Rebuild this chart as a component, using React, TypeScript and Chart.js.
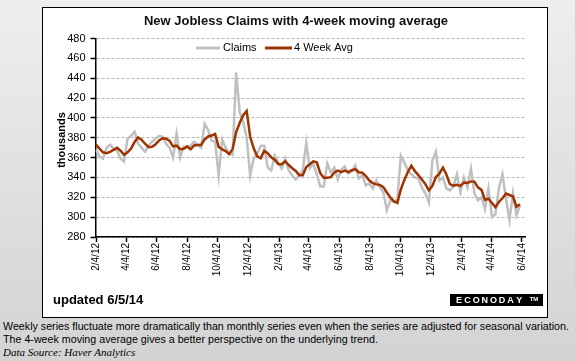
import React, { useEffect, useRef } from "react";
import { Chart, registerables } from "chart.js";

Chart.register(...registerables);

const titleText = "New Jobless Claims with 4-week moving average";
const yAxisTitle = "thousands";
const seriesNames = ["Claims", "4 Week Avg"];
const firstWeekEnding = "2/4/12";

// weekly initial claims, thousands (week ending 2/4/12 onward)
const claims = [
  368, 361, 359, 370, 373, 369, 367, 359, 356, 379,
  382, 386, 374, 370, 366, 372, 376, 379, 382, 381,
  374, 370, 360, 384, 360, 371, 370, 372, 376, 373,
  370, 394, 388, 377, 376, 342, 378, 370, 364, 363,
  446, 406, 396, 380, 342, 359, 364, 372, 372, 350,
  347, 362, 355, 349, 359, 347, 342, 338, 342, 347,
  375, 349, 354, 343, 331, 331, 354, 345, 350, 338,
  348, 351, 344, 346, 352, 339, 342, 332, 334, 329,
  337, 330, 325, 307, 317, 315, 318, 362, 355, 347,
  343, 340, 339, 330, 324, 315, 357, 366, 337, 340,
  329, 327, 331, 343, 325, 340, 330, 349, 324, 317,
  320, 308, 329, 300, 303, 330, 343, 319, 297, 324,
  302, 312,
];

// 4-week moving average, thousands
const avg4wk = [
  373.0, 369.0, 365.3, 364.5, 365.8, 367.8, 369.8, 367.0, 362.8, 365.3,
  369.0, 375.8, 380.3, 378.0, 374.0, 370.5, 371.0, 373.3, 377.3, 379.5,
  379.0, 376.8, 371.3, 372.0, 368.5, 368.8, 371.3, 368.3, 372.3, 372.8,
  372.8, 378.3, 381.3, 382.3, 383.8, 370.8, 368.3, 366.5, 363.5, 368.8,
  385.8, 394.8, 402.8, 407.0, 381.0, 369.3, 361.3, 359.3, 366.8, 364.5,
  360.3, 357.8, 353.5, 353.3, 356.3, 352.5, 349.3, 346.5, 342.3, 342.3,
  350.5, 353.3, 356.3, 355.3, 344.3, 339.8, 339.8, 340.3, 345.0, 346.8,
  345.3, 346.8, 345.3, 347.3, 348.3, 345.3, 344.8, 341.3, 336.8, 334.3,
  333.0, 332.5, 330.3, 324.8, 319.8, 316.0, 314.3, 328.0, 337.5, 345.5,
  351.8, 346.3, 342.3, 338.0, 333.3, 327.0, 331.5, 340.5, 343.8, 350.0,
  343.0, 333.3, 331.8, 332.5, 331.5, 334.8, 334.5, 336.0, 335.8, 330.0,
  327.5, 317.3, 318.5, 314.3, 310.0, 315.5, 319.0, 323.8, 322.3, 320.8,
  310.5, 313.0,
];

const xTickLabels = [
  "2/4/12", "4/4/12", "6/4/12", "8/4/12", "10/4/12", "12/4/12", "2/4/13",
  "4/4/13", "6/4/13", "8/4/13", "10/4/13", "12/4/13", "2/4/14", "4/4/14", "6/4/14",
];
const yMin = 280;
const yMax = 480;
const yStep = 20;

const updatedText = "updated 6/5/14";
const logoText = "ECONODAY";
const captionLines = [
  "Weekly series fluctuate more dramatically than monthly series even when the series are adjusted for seasonal variation.",
  "The 4-week moving average gives a better perspective on the underlying trend.",
];
const sourceText = "Data Source: Haver Analytics";

const FONT = '"Liberation Sans", Arial, Helvetica, sans-serif';
const DAY_MS = 86400000;

function parseUS(s: string): number {
  const [m, d, y] = s.split("/").map(Number);
  return Date.UTC(2000 + y, m - 1, d);
}
const t0 = parseUS(firstWeekEnding);
const dayOf = (s: string) => Math.round((parseUS(s) - t0) / DAY_MS);
const tickDays = xTickLabels.map(dayOf);
const labelByDay: Record<number, string> = {};
xTickLabels.forEach((l, i) => (labelByDay[tickDays[i]] = l));

const claimsPts = claims.map((v, i) => ({ x: i * 7, y: v }));
const avgPts = avg4wk.map((v, i) => ({ x: i * 7, y: v }));

const CLAIMS_COLOR = "#c0c0c0";
const AVG_COLOR = "#9e3300";

const decorPlugin = {
  id: "decor",
  afterDraw(chart: any) {
    const ctx = chart.ctx as CanvasRenderingContext2D;
    ctx.save();
    // title
    ctx.fillStyle = "#111";
    ctx.textAlign = "center";
    ctx.textBaseline = "middle";
    ctx.font = `bold 13px ${FONT}`;
    ctx.fillText(titleText, 253, 13);

    // y axis title
    ctx.save();
    ctx.translate(19, 132);
    ctx.rotate(-Math.PI / 2);
    ctx.font = `bold 11px ${FONT}`;
    ctx.fillStyle = "#000";
    ctx.fillText(yAxisTitle, 0, 0);
    ctx.restore();

    // legend
    const ly = 40;
    ctx.lineWidth = 3;
    ctx.strokeStyle = CLAIMS_COLOR;
    ctx.beginPath();
    ctx.moveTo(153, ly);
    ctx.lineTo(177, ly);
    ctx.stroke();
    ctx.strokeStyle = AVG_COLOR;
    ctx.beginPath();
    ctx.moveTo(222, ly);
    ctx.lineTo(249, ly);
    ctx.stroke();
    ctx.font = `11px ${FONT}`;
    ctx.fillStyle = "#000";
    ctx.textAlign = "left";
    ctx.fillText(seriesNames[0], 180, ly);
    ctx.fillText(seriesNames[1], 251, ly);

    // updated
    ctx.font = `bold 13px ${FONT}`;
    ctx.fillText(updatedText, 10, 292);

    // logo
    ctx.fillStyle = "#000";
    ctx.fillRect(407, 286, 93, 12);
    ctx.fillStyle = "#fff";
    ctx.font = `bold 9px ${FONT}`;
    ctx.textAlign = "center";
    for (let i = 0; i < logoText.length; i++) {
      ctx.fillText(logoText[i], 416 + i * 8.6, 292.5);
    }
    ctx.font = `bold 6px ${FONT}`;
    ctx.fillText("TM", 491, 291);
    ctx.restore();
  },
};

export default function App() {
  const canvasRef = useRef<HTMLCanvasElement | null>(null);

  useEffect(() => {
    if (!canvasRef.current) return;
    const chart = new Chart(canvasRef.current, {
      type: "line",
      data: {
        datasets: [
          {
            label: seriesNames[0],
            data: claimsPts,
            borderColor: CLAIMS_COLOR,
            backgroundColor: CLAIMS_COLOR,
            borderWidth: 2.5,
            pointRadius: 0,
            tension: 0,
            order: 2,
          },
          {
            label: seriesNames[1],
            data: avgPts,
            borderColor: AVG_COLOR,
            backgroundColor: AVG_COLOR,
            borderWidth: 2.5,
            pointRadius: 0,
            tension: 0,
            order: 1,
          },
        ],
      },
      options: {
        animation: false,
        responsive: false,
        maintainAspectRatio: false,
        devicePixelRatio: 1,
        layout: { padding: { top: 30.5, right: 22, left: 0, bottom: 0 } },
        plugins: {
          legend: { display: false },
          tooltip: { enabled: false },
          title: { display: false },
        },
        scales: {
          x: {
            type: "linear",
            min: -1,
            max: 857,
            afterBuildTicks: (s: any) => {
              s.ticks = tickDays.map((v) => ({ value: v }));
            },
            afterFit: (s: any) => {
              s.height = 80;
            },
            ticks: {
              autoSkip: false,
              minRotation: 90,
              maxRotation: 90,
              color: "#000",
              padding: 1,
              font: { size: 10, family: FONT },
              callback: (v: any) => labelByDay[v as number] ?? "",
            },
            grid: {
              drawOnChartArea: false,
              drawTicks: true,
              tickLength: 5,
              tickColor: "#000",
              tickWidth: 1.5,
            },
            border: { display: true, color: "#000", width: 1.5 },
          },
          y: {
            min: yMin,
            max: yMax,
            afterFit: (s: any) => {
              s.width = 52.5;
            },
            ticks: {
              stepSize: yStep,
              color: "#000",
              padding: 5,
              font: { size: 11, family: FONT },
            },
            grid: {
              color: "#b4b4b4",
              lineWidth: 1,
              tickColor: "#000",
              tickLength: 5,
              tickWidth: 1.5,
            },
            border: { display: true, color: "#000", width: 1.5, dash: [3, 2] },
          },
        },
      },
      plugins: [decorPlugin],
    } as any);
    return () => chart.destroy();
  }, []);

  return (
    <div
      style={{
        position: "absolute",
        left: 0,
        top: 0,
        width: 575,
        height: 361,
        background: "linear-gradient(#eeeeee, #d3d3d3)",
        fontFamily: FONT,
        overflow: "hidden",
      }}
    >
      <div
        style={{
          position: "absolute",
          left: 42,
          top: 7,
          width: 504,
          height: 309,
          border: "1px solid #000",
          background: "#fff",
        }}
      >
        <canvas ref={canvasRef} width={504} height={309} style={{ display: "block", width: 504, height: 309 }} />
      </div>
      <div
        style={{
          position: "absolute",
          left: 3,
          top: 320,
          fontSize: 10.7,
          lineHeight: "13px",
          color: "#000",
          whiteSpace: "nowrap",
        }}
      >
        {captionLines.map((l, i) => (
          <div key={i}>{l}</div>
        ))}
      </div>
      <div
        style={{
          position: "absolute",
          left: 3,
          top: 346,
          fontSize: 11,
          lineHeight: "13px",
          fontStyle: "italic",
          fontFamily: '"Liberation Serif", "Times New Roman", serif',
          color: "#000",
          whiteSpace: "nowrap",
        }}
      >
        {sourceText}
      </div>
    </div>
  );
}
